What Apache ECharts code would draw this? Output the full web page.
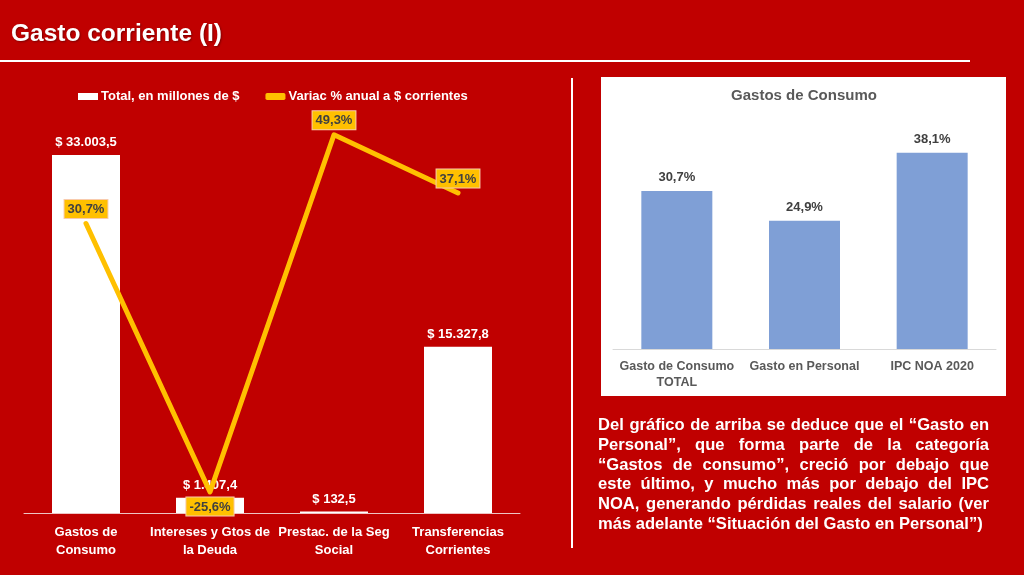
<!DOCTYPE html>
<html>
<head>
<meta charset="utf-8">
<script src="https://cdn.jsdelivr.net/npm/echarts@6/dist/echarts.min.js"></script>
<style>
  html, body { margin: 0; padding: 0; background: #c00000; }
  #chart { width: 1024px; height: 575px; position: absolute; left: 0; top: 0; }
  #note { position: absolute; left: 598px; top: 415px; width: 391px; color: #ffffff;
          font-family: 'Liberation Sans', Arial, sans-serif; font-weight: bold; font-size: 16px; line-height: 19.8px; }
  #note div { white-space: nowrap; text-align: justify; text-align-last: justify; }
  #note div.last { text-align-last: left; }
</style>
</head>
<body>
<div id="chart"></div>
<div id="note"></div>
<script>
// ---- Data ----
const categories = ['Gastos de\nConsumo', 'Intereses y Gtos de\nla Deuda', 'Prestac. de la Seg\nSocial', 'Transferencias\nCorrientes'];
const totals = [33003.5, 1407.4, 132.5, 15327.8];
const variation = [30.7, -25.6, 49.3, 37.1];
const seriesNames = ['Total, en millones de $', 'Variac % anual a $ corrientes'];
const consumoCategories = ['Gasto de Consumo\nTOTAL', 'Gasto en Personal', 'IPC NOA 2020'];
const consumoValues = [30.7, 24.9, 38.1];
const mainTitle = 'Gasto corriente (I)';
const consumoTitle = 'Gastos de Consumo';
const noteLines = [
  'Del gráfico de arriba se deduce que el “Gasto en',
  'Personal”, que forma parte de la categoría',
  '“Gastos de consumo”, creció por debajo que',
  'este último, y mucho más por debajo del IPC',
  'NOA, generando pérdidas reales del salario (ver',
  'más adelante “Situación del Gasto en Personal”)'
];

// ---- Helpers ----
function fmtEs(v, dec) {
  const parts = v.toFixed(dec).split('.');
  const intPart = parts[0].replace(/\B(?=(\d{3})+(?!\d))/g, '.');
  return parts.length > 1 ? intPart + ',' + parts[1] : intPart;
}
function fmtPct(v) { return fmtEs(v, 1) + '%'; }

// ---- Note text ----
const note = document.getElementById('note');
noteLines.forEach((t, i) => {
  const d = document.createElement('div');
  d.textContent = t;
  if (i === noteLines.length - 1) d.className = 'last';
  note.appendChild(d);
});
(function fitNote() {
  const c = document.createElement('canvas').getContext('2d');
  c.font = 'bold 14px "Liberation Sans", Arial, sans-serif';
  let maxW = 0;
  noteLines.forEach(t => { maxW = Math.max(maxW, c.measureText(t).width); });
  const wLast = c.measureText(noteLines[noteLines.length - 1]).width;
  const size = Math.min(14 * 385 / wLast, 14 * 390 / maxW);
  note.style.fontSize = size.toFixed(2) + 'px';
})();

// ---- Chart ----
const chart = echarts.init(document.getElementById('chart'), null, { renderer: 'canvas' });
const FONT = "'Liberation Sans', Arial, sans-serif";

const option = {
  backgroundColor: '#c00000',
  animation: false,
  textStyle: { fontFamily: FONT },
  title: {
    text: mainTitle, left: 11, top: 22, padding: 0,
    textStyle: { color: '#ffffff', fontSize: 24.5, fontWeight: 'bold', fontFamily: FONT,
                 textShadowColor: 'rgba(0,0,0,0.35)', textShadowBlur: 2, textShadowOffsetX: 1, textShadowOffsetY: 1 }
  },
  graphic: [
    { type: 'line', shape: { x1: 0, y1: 61, x2: 970, y2: 61 }, style: { stroke: '#ffffff', lineWidth: 2 }, z: 0 },
    { type: 'line', shape: { x1: 572, y1: 78, x2: 572, y2: 548 }, style: { stroke: '#ffffff', lineWidth: 2 }, z: 0 },
    { type: 'rect', shape: { x: 601, y: 77, width: 405, height: 319 }, style: { fill: '#ffffff' }, z: -1 },
    { type: 'text', x: 804, y: 96, z: 5,
      style: { text: consumoTitle, fill: '#595959', font: 'bold 15px ' + FONT, textAlign: 'center', textVerticalAlign: 'middle' } }
  ],
  legend: {
    data: [{ name: seriesNames[0], icon: 'rect' }, { name: seriesNames[1], icon: 'roundRect' }],
    left: 78, top: 90, padding: 0, itemWidth: 20, itemHeight: 7, itemGap: 26,
    textStyle: { color: '#ffffff', fontSize: 13, fontWeight: 'bold', fontFamily: FONT, padding: [0, 0, 0, -2] }
  },
  grid: [
    { left: 24, width: 496, top: 79, bottom: 62, containLabel: false },
    { left: 613, width: 383, top: 143, bottom: 226, containLabel: false }
  ],
  xAxis: [
    { type: 'category', gridIndex: 0, data: categories,
      axisLine: { lineStyle: { color: '#eec4c4', width: 1 } }, axisTick: { show: false },
      axisLabel: { color: '#ffffff', fontSize: 13, fontWeight: 'bold', lineHeight: 18, margin: 10, interval: 0, fontFamily: FONT } },
    { type: 'category', gridIndex: 1, data: consumoCategories,
      axisLine: { lineStyle: { color: '#d9d9d9', width: 1 } }, axisTick: { show: false },
      axisLabel: { color: '#595959', fontSize: 12.5, fontWeight: 'bold', lineHeight: 16, margin: 10, interval: 0, fontFamily: FONT } }
  ],
  yAxis: [
    { type: 'value', gridIndex: 0, min: 0, max: 40000, show: false, splitLine: { show: false } },
    { type: 'value', gridIndex: 0, min: -30, max: 61, show: false, splitLine: { show: false } },
    { type: 'value', gridIndex: 1, min: 0, max: 40, show: false, splitLine: { show: false } }
  ],
  series: [
    { name: seriesNames[0], type: 'bar', xAxisIndex: 0, yAxisIndex: 0, data: totals, barWidth: 68,
      itemStyle: { color: '#ffffff' }, z: 2,
      label: { show: true, position: 'top', distance: 6, color: '#ffffff', fontSize: 13, fontWeight: 'bold', fontFamily: FONT,
               formatter: p => '$ ' + fmtEs(p.value, 1) } },
    { name: seriesNames[1], type: 'line', xAxisIndex: 0, yAxisIndex: 1,
      data: variation.map(v => v < 0 ? { value: v, label: { position: 'bottom' } } : v),
      symbol: 'circle', symbolSize: 1, showSymbol: true, z: 5,
      lineStyle: { color: '#ffc000', width: 5, cap: 'round', join: 'round' },
      itemStyle: { color: '#ffc000' },
      label: { show: true, position: 'top', distance: 5, color: '#404040', fontSize: 13, fontWeight: 'bold', fontFamily: FONT,
               backgroundColor: '#ffc000', borderColor: '#f8cbad', borderWidth: 1, padding: [3, 3, 2, 3],
               formatter: p => fmtPct(p.value) } },
    { name: consumoTitle, type: 'bar', xAxisIndex: 1, yAxisIndex: 2, data: consumoValues, barWidth: 71,
      itemStyle: { color: '#7f9fd6' },
      label: { show: true, position: 'top', distance: 7, color: '#404040', fontSize: 13, fontWeight: 'bold', fontFamily: FONT,
               formatter: p => fmtPct(p.value) } }
  ]
};
chart.setOption(option);
</script>
</body>
</html>
